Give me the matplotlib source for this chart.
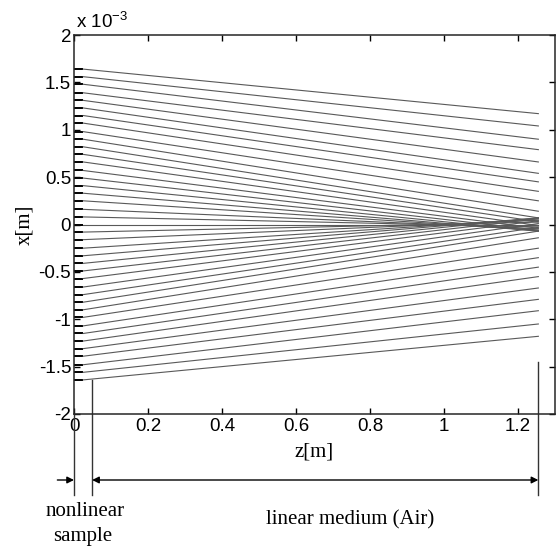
import matplotlib
matplotlib.use("Agg")
import matplotlib.pyplot as plt

# ---- data (x in units of 1e-3 m) ----
z_sample_in = 0.0
z_sample_flat = 0.025
z_end = 1.255
x_start_upper = [1.64, 1.56, 1.48, 1.39, 1.31, 1.23, 1.15, 1.07, 0.98, 0.90,
                 0.82, 0.74, 0.66, 0.57, 0.49, 0.41, 0.33, 0.25, 0.16, 0.08, 0.00]
x_end_upper = [1.17, 1.04, 0.90, 0.79, 0.66, 0.54, 0.45, 0.35, 0.25, 0.14,
               0.07, 0.03, -0.01, -0.04, -0.06, -0.07, -0.07, -0.06, -0.045, -0.025, 0.0]
x_start_lower = [-0.08, -0.16, -0.25, -0.33, -0.41, -0.49, -0.57, -0.66, -0.74, -0.82,
                 -0.90, -0.98, -1.07, -1.15, -1.23, -1.31, -1.39, -1.48, -1.56, -1.64]
x_end_lower = [0.025, 0.045, 0.06, 0.07, 0.07, 0.06, 0.04, 0.01, -0.03, -0.07,
               -0.14, -0.25, -0.35, -0.45, -0.55, -0.67, -0.79, -0.91, -1.05, -1.18]
xticks = [0, 0.2, 0.4, 0.6, 0.8, 1.0, 1.2]
xticklabels = ["0", "0.2", "0.4", "0.6", "0.8", "1", "1.2"]
yticks = [-2, -1.5, -1, -0.5, 0, 0.5, 1, 1.5, 2]
yticklabels = ["-2", "-1.5", "-1", "-0.5", "0", "0.5", "1", "1.5", "2"]

x_start = x_start_upper + x_start_lower
x_end = x_end_upper + x_end_lower

W, H = 556, 547
fig = plt.figure(figsize=(W / 100, H / 100), dpi=100)
fig.patch.set_facecolor("white")
L, R, T, B = 74, 555, 35, 414
ax = fig.add_axes([L / W, 1 - B / H, (R - L) / W, (B - T) / H])

for x0, x1 in zip(x_start, x_end):
    ax.plot([z_sample_in, z_sample_flat], [x0, x0], color="black", lw=1.4,
            solid_capstyle="butt")
    ax.plot([z_sample_flat, z_end], [x0, x1], color="0.35", lw=0.8)

ax.set_xlim(0, 1.3)
ax.set_ylim(-2, 2)
ax.set_xticks(xticks)
ax.set_xticklabels(xticklabels)
ax.set_yticks(yticks)
ax.set_yticklabels(yticklabels)
for lab in ax.get_xticklabels() + ax.get_yticklabels():
    lab.set_fontfamily("Liberation Sans")
    lab.set_fontsize(13.5)
ax.tick_params(direction="in", length=4, width=1, top=True, right=True,
               color="black", pad=3)
ax.tick_params(axis="y", pad=2)
for s in ax.spines.values():
    s.set_linewidth(1.1)
    s.set_color("0.15")

ax.set_xlabel("z[m]", fontfamily="Liberation Serif", fontsize=15, labelpad=5)
ax.set_ylabel("x[m]", fontfamily="Liberation Serif", fontsize=15, labelpad=3)

# exponent label
fig.text(76 / W, 1 - 28 / H, r"x 10$^{\mathregular{-3}}$", fontfamily="Liberation Sans",
         fontsize=13.5, ha="left", va="baseline")

# helper: figure-pixel y -> data y
def py(ypix):
    return 2 - (ypix - T) / (B - T) * 4

z_sample_out = 0.049
# vertical marker lines extending below the axes
ax.plot([0, 0], [-2, py(495)], color="0.2", lw=1, clip_on=False)
ax.plot([z_sample_out, z_sample_out], [py(380), py(495)], color="0.2", lw=1, clip_on=False)
ax.plot([z_end, z_end], [py(362), py(495)], color="0.2", lw=1, clip_on=False)

# arrows
ya = py(480)
ax.annotate("", xy=(0, ya), xytext=(-0.045, ya), xycoords="data",
            arrowprops=dict(arrowstyle="-|>", color="black", lw=1,
                            mutation_scale=10, shrinkA=0, shrinkB=0),
            annotation_clip=False)
ax.annotate("", xy=(z_end, ya), xytext=(z_sample_out, ya), xycoords="data",
            arrowprops=dict(arrowstyle="<|-|>", color="black", lw=1,
                            mutation_scale=10, shrinkA=0, shrinkB=0),
            annotation_clip=False)

fig.text(85 / W, 1 - 512 / H, "nonlinear", fontfamily="Liberation Serif",
         fontsize=15, ha="center", va="center")
fig.text(83 / W, 1 - 536 / H, "sample", fontfamily="Liberation Serif",
         fontsize=15, ha="center", va="center")
fig.text(350 / W, 1 - 520 / H, "linear medium (Air)", fontfamily="Liberation Serif",
         fontsize=15, ha="center", va="center")

fig.savefig("out.png", dpi=100, facecolor="white")
